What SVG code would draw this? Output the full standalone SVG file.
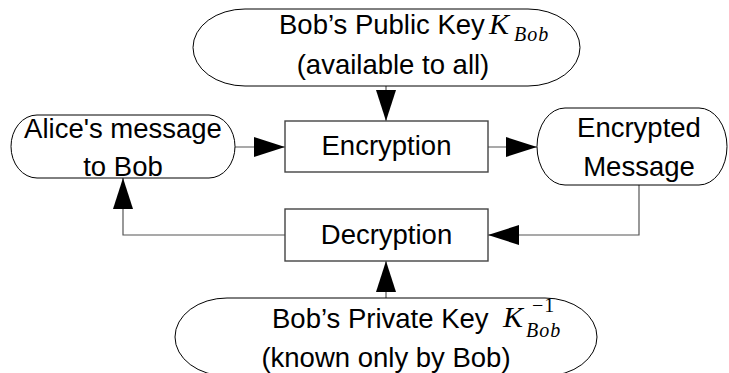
<svg xmlns="http://www.w3.org/2000/svg" width="729" height="373" viewBox="0 0 729 373">
  <defs>
    <marker id="ah" markerUnits="userSpaceOnUse" markerWidth="31" markerHeight="20" refX="31" refY="10" orient="auto" viewBox="0 0 31 20">
      <path d="M0,0 L31,10 L0,20 Z" fill="#000"/>
    </marker>
    <style>
      .term { fill: #fff; stroke: #000; stroke-width: 1; }
      .proc { fill: #fff; stroke: #444; stroke-width: 1.4; }
      .lbl { font-family: "Liberation Sans", Arial, sans-serif; font-size: 27.5px; fill: #000; }
      .mid { text-anchor: middle; }
      .math { font-family: "Liberation Serif", "Times New Roman", serif; font-style: italic; fill: #000; }
      .sub { font-size: 20px; letter-spacing: 1px; }
      .up { font-style: normal; }
      .conn { fill: none; stroke: #555; stroke-width: 1.2; marker-end: url(#ah); }
    </style>
  </defs>

  <rect width="729" height="373" fill="#fff"/>

  <!-- connectors -->
  <g id="connectors">
    <path class="conn" d="M386,86 V121"/>
    <path class="conn" d="M235,147 H285"/>
    <path class="conn" d="M488,147 H537"/>
    <path class="conn" d="M639,185 V235 H488"/>
    <path class="conn" d="M285,235 H123 V178"/>
    <path class="conn" d="M386,298 V261"/>
  </g>

  <!-- public key source -->
  <g id="public-key">
    <path class="term" d="M245,9 H528 A52,38.5 0 0 1 528,86 H245 A52,38.5 0 0 1 245,9 Z"/>
    <text class="lbl" x="279" y="34">Bob’s Public Key</text>
    <text class="math" x="489" y="34" font-size="30">K</text>
    <text class="math sub" x="514" y="41">Bob</text>
    <text class="lbl mid" x="393" y="74">(available to all)</text>
  </g>

  <!-- plaintext -->
  <g id="alice-message">
    <path class="term" d="M37,115 H209 A26,31.5 0 0 1 209,178 H37 A26,31.5 0 0 1 37,115 Z"/>
    <text class="lbl mid" x="123" y="138">Alice's message</text>
    <text class="lbl mid" x="123" y="176">to Bob</text>
  </g>

  <!-- encryption step -->
  <g id="encryption">
    <rect class="proc" x="285" y="121" width="203" height="51"/>
    <text class="lbl mid" x="386.5" y="155">Encryption</text>
  </g>

  <!-- ciphertext -->
  <g id="encrypted-message">
    <path class="term" d="M565,108 H699 A28,38.5 0 0 1 699,185 H565 A28,38.5 0 0 1 565,108 Z"/>
    <text class="lbl mid" x="639" y="137">Encrypted</text>
    <text class="lbl mid" x="639" y="176">Message</text>
  </g>

  <!-- decryption step -->
  <g id="decryption">
    <rect class="proc" x="285" y="209" width="203" height="52"/>
    <text class="lbl mid" x="386.5" y="244">Decryption</text>
  </g>

  <!-- private key source -->
  <g id="private-key">
    <path class="term" d="M227,298 H545 A52,39 0 0 1 545,376 H227 A52,39 0 0 1 227,298 Z"/>
    <text class="lbl" x="272" y="328">Bob’s Private Key</text>
    <text class="math" x="503" y="327" font-size="30">K</text>
    <text class="math sub up" x="532" y="312">−1</text>
    <text class="math sub" x="526" y="337">Bob</text>
    <text class="lbl mid" x="386" y="367">(known only by Bob)</text>
  </g>
</svg>
